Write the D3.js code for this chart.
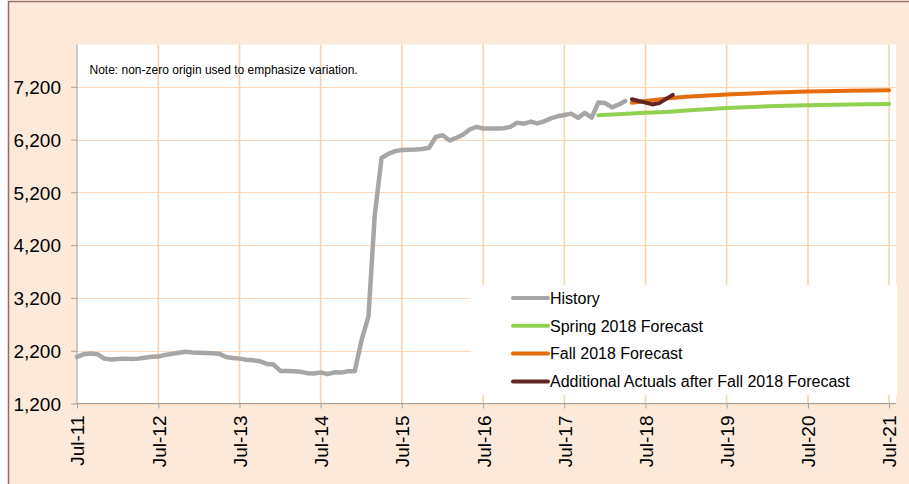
<!DOCTYPE html>
<html>
<head>
<meta charset="utf-8">
<script src="https://cdn.jsdelivr.net/npm/d3@7"></script>
<style>
  body { margin: 0; background: #fff; }
  text { font-family: 'Liberation Sans', Arial, sans-serif; fill: #000; }
</style>
</head>
<body>
<div id="container"></div>
<script>
// monthly history, Jul-11 .. Apr-18
const historyStart = '2011-07'
const historyValues = [
  2083, 2134, 2147, 2134, 2050, 2033, 2045, 2050, 2045, 2050, 2068, 2085,
  2088, 2120, 2140, 2160, 2180, 2168, 2162, 2155, 2150, 2142, 2080, 2060,
  2050, 2030, 2018, 2000, 1950, 1938, 1817, 1815, 1810, 1800, 1775, 1770,
  1790, 1755, 1790, 1785, 1810, 1810, 2400, 2850, 4750, 5850, 5930, 5980,
  6000, 6005, 6010, 6020, 6045, 6250, 6280, 6180, 6230, 6290, 6390, 6440,
  6410, 6410, 6410, 6415, 6440, 6520, 6500, 6540, 6505, 6545, 6600, 6640,
  6665, 6690, 6610, 6705, 6615, 6900, 6890, 6810, 6860, 6930
]

const springDates = ['2017-12', '2018-07', '2018-10', '2019-01', '2019-04', '2019-07', '2020-01', '2020-07', '2021-01', '2021-07']
const springValues = [6660, 6705, 6723, 6748, 6775, 6798, 6830, 6850, 6865, 6875]

const fallDates = ['2018-05', '2018-07', '2018-10', '2019-01', '2019-07', '2020-01', '2020-07', '2021-01', '2021-07']
const fallValues = [6895, 6930, 6975, 7010, 7055, 7085, 7110, 7125, 7135]

const actualDates = ['2018-05', '2018-06', '2018-07', '2018-08', '2018-09', '2018-10', '2018-11']
const actualValues = [6963, 6930, 6900, 6865, 6890, 6965, 7045]

const yTicks = [1200, 2200, 3200, 4200, 5200, 6200, 7200]
const xTickYears = [2011, 2012, 2013, 2014, 2015, 2016, 2017, 2018, 2019, 2020, 2021]

const seriesNames = ['History', 'Spring 2018 Forecast', 'Fall 2018 Forecast', 'Additional Actuals after Fall 2018 Forecast']
const seriesColors = ['#a6a6a6', '#92d050', '#e46c0a', '#632523']

const w = 909
const h = 484
const plotLeft = 77
const plotRight = 896
const plotTop = 44.5
const plotBottom = 403.5

var parse = d3.timeParse('%Y-%m')

var svg = d3.select('div#container')
  .append('svg')
  .attr('width', w)
  .attr('height', h)

// chart frame
svg.append('rect')
  .attr('x', 8.5).attr('y', 1.5)
  .attr('width', w + 10).attr('height', h + 10)
  .attr('fill', '#fce9da')
  .attr('stroke', '#9a6a5c')
  .attr('stroke-width', 1.5)

svg.append('rect')
  .attr('x', plotLeft).attr('y', plotTop)
  .attr('width', plotRight - plotLeft).attr('height', plotBottom - plotTop)
  .attr('fill', '#fff')

var x = d3.scaleTime()
  .domain([parse('2011-07'), parse('2021-08')])
  .range([plotLeft, plotRight])

var y = d3.scaleLinear()
  .domain([1200, 8000])
  .range([plotBottom, plotTop])

var xTicks = xTickYears.map(yr => new Date(yr, 6, 1))
var fmt = d3.timeFormat('%b-%y')

// gridlines
svg.append('g')
  .selectAll('line')
  .data(yTicks)
  .enter().append('line')
  .attr('x1', plotLeft).attr('x2', plotRight)
  .attr('y1', d => Math.round(y(d)) + 0.5)
  .attr('y2', d => Math.round(y(d)) + 0.5)
  .attr('stroke', '#fcd9bd')
  .attr('stroke-width', 1.2)

svg.append('g')
  .selectAll('line')
  .data(xTicks.slice(1))
  .enter().append('line')
  .attr('x1', d => x(d)).attr('x2', d => x(d))
  .attr('y1', plotTop).attr('y2', plotBottom)
  .attr('stroke', '#f9d2ae')
  .attr('stroke-width', 1.6)

// note
svg.append('text')
  .attr('x', 89.5)
  .attr('y', 74)
  .style('font-size', '12px')
  .text('Note: non-zero origin used to emphasize variation.')

// axes
var yAxis = d3.axisLeft(y)
  .tickValues(yTicks)
  .tickSize(6)
  .tickPadding(10)
  .tickFormat(d3.format(','))

var gy = svg.append('g')
  .attr('transform', 'translate(' + plotLeft + ',0)')
  .call(yAxis)
gy.select('.domain').remove()
gy.selectAll('line').attr('stroke', '#a0a0a0')
gy.selectAll('text')
  .style('font-size', '19px')
  .style('font-family', "'Liberation Sans', Arial, sans-serif")
  .attr('dy', '0.36em')

var xAxis = d3.axisBottom(x)
  .tickValues(xTicks)
  .tickSize(5)
  .tickFormat(fmt)

var gx = svg.append('g')
  .attr('transform', 'translate(0,' + plotBottom + ')')
  .call(xAxis)
gx.select('.domain').remove()
gx.selectAll('line').attr('stroke', '#a0a0a0')
gx.selectAll('text')
  .style('font-size', '19px')
  .style('font-family', "'Liberation Sans', Arial, sans-serif")
  .style('text-anchor', 'end')
  .attr('transform', 'rotate(-90)')
  .attr('x', -12)
  .attr('y', 0)
  .attr('dy', '0.36em')

svg.append('line')
  .attr('x1', plotLeft).attr('x2', plotRight)
  .attr('y1', plotBottom).attr('y2', plotBottom)
  .attr('stroke', '#a0a0a0')
svg.append('line')
  .attr('x1', plotLeft).attr('x2', plotLeft)
  .attr('y1', plotTop).attr('y2', plotBottom)
  .attr('stroke', '#a0a0a0')

// legend box (drawn before lines, covers gridlines)
var legend = svg.append('g')
legend.append('rect')
  .attr('x', 471).attr('y', 285)
  .attr('width', 426).attr('height', 110)
  .attr('fill', '#fff')

var row = legend.selectAll('g.row')
  .data(seriesNames)
  .enter().append('g')
  .attr('class', 'row')
  .attr('transform', (d, i) => 'translate(513,' + (298 + i * 27.8) + ')')

row.append('line')
  .attr('x1', 0).attr('x2', 35)
  .attr('stroke', (d, i) => seriesColors[i])
  .attr('stroke-width', 4)
  .attr('stroke-linecap', 'round')

row.append('text')
  .attr('x', 37)
  .attr('dy', '0.36em')
  .style('font-size', '16px')
  .text(d => d)

// series
var line = d3.line()
  .x(d => x(d.date))
  .y(d => y(d.value))

var historyData = historyValues.map((v, i) => ({ date: d3.timeMonth.offset(parse(historyStart), i), value: v }))
var pair = (dates, values) => dates.map((s, i) => ({ date: parse(s), value: values[i] }))

var series = [
  historyData,
  pair(springDates, springValues),
  pair(fallDates, fallValues),
  pair(actualDates, actualValues)
]

svg.append('g')
  .selectAll('path')
  .data(series)
  .enter().append('path')
  .attr('d', line)
  .attr('fill', 'none')
  .attr('stroke', (d, i) => seriesColors[i])
  .attr('stroke-width', (d, i) => i === 0 ? 4.5 : 4)
  .attr('stroke-linejoin', 'round')
  .attr('stroke-linecap', 'round')
</script>
</body>
</html>
